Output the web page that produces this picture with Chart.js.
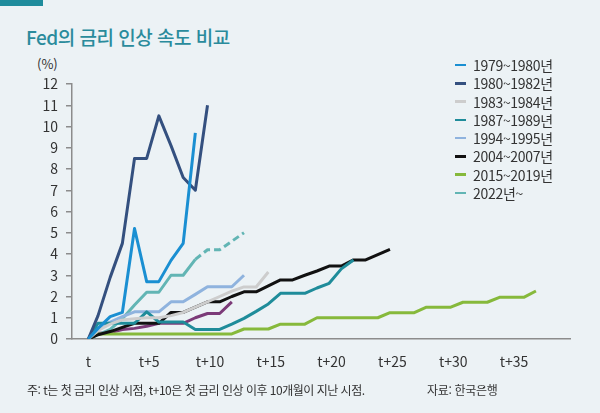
<!DOCTYPE html>
<html lang="ko">
<head>
<meta charset="utf-8">
<script src="https://cdn.jsdelivr.net/npm/chart.js@4.4.1/dist/chart.umd.min.js"></script>
<style>
  body { margin: 0; background: #ecf2f5; }
  #wrap { position: relative; width: 600px; height: 413px; overflow: hidden; background: #ecf2f5;
          font-family: "Noto Sans CJK KR", "Noto Sans", sans-serif; color: #333; }
  #bar { position: absolute; left: 0; top: 0; width: 43px; height: 6px; background: #1f8c9c; }
  #title { position: absolute; left: 26px; top: 23px; font-size: 19px; font-weight: 500; color: #2a8b9c; letter-spacing: -0.5px; }
  #unit { position: absolute; left: 37px; top: 54px; font-size: 13px; }
  #legend { position: absolute; left: 455px; top: 56px; }
  .row { height: 18.25px; display: flex; align-items: center; font-size: 14px; letter-spacing: -0.3px; }
  .mark { width: 11px; height: 2.5px; margin-right: 7px; }
  #note { position: absolute; left: 27px; top: 381px; font-size: 12px; letter-spacing: -0.5px; }
  #src { position: absolute; left: 427px; top: 381px; font-size: 12px; letter-spacing: -0.3px; }
  canvas { position: absolute; left: 0; top: 0; }
</style>
</head>
<body>
<div id="wrap">
  <div id="bar"></div>
  <div id="title">Fed의 금리 인상 속도 비교</div>
  <div id="unit">(%)</div>
  <canvas id="chart" width="600" height="413"></canvas>
  <div id="legend"></div>
  <div id="note">주: t는 첫 금리 인상 시점, t+10은 첫 금리 인상 이후 10개월이 지난 시점.</div>
  <div id="src">자료: 한국은행</div>
</div>
<script>
// x position of each point (months after first hike, as plotted)
const months = [0, 0.8, 1.8, 2.8, 3.8, 4.8, 5.8, 6.8, 7.8, 8.8, 9.8, 10.8, 11.8, 12.8, 13.8, 14.8,
  15.8, 16.8, 17.8, 18.8, 19.8, 20.8, 21.8, 22.8, 23.8, 24.8, 25.8, 26.8, 27.8, 28.8, 29.8,
  30.8, 31.8, 32.8, 33.8, 34.8, 35.8, 36.8];

const xTicks = [0, 5, 10, 15, 20, 25, 30, 35];
const yTicks = [0, 1, 2, 3, 4, 5, 6, 7, 8, 9, 10, 11, 12];

const s1979 = [0, 0.5, 1.05, 1.25, 5.2, 2.7, 2.7, 3.7, 4.5, 9.7];
const s1980 = [0, 1.1, 2.9, 4.5, 8.5, 8.5, 10.5, 9.1, 7.6, 7.0, 11.0];
const s1983 = [0, 0.4, 0.7, 0.9, 0.95, 1.0, 1.0, 1.1, 1.25, 1.5, 1.75, 2.0, 2.25, 2.45, 2.45, 3.15];
const s1987 = [0, 0.74, 0.74, 0.74, 0.74, 1.28, 0.8, 0.8, 0.8, 0.45, 0.45, 0.45, 0.7, 0.97, 1.3, 1.65,
  2.15, 2.15, 2.15, 2.4, 2.62, 3.3, 3.72];
const s1994 = [0, 0.5, 0.8, 1.05, 1.28, 1.28, 1.28, 1.75, 1.75, 2.1, 2.46, 2.46, 2.46, 3.0];
const s2004 = [0, 0.2, 0.35, 0.55, 0.74, 0.74, 0.74, 1.25, 1.25, 1.5, 1.75, 1.75, 2.0, 2.22, 2.22, 2.5,
  2.78, 2.78, 3.0, 3.2, 3.43, 3.43, 3.72, 3.72, 3.97, 4.22];
const s2015 = [0, 0.24, 0.24, 0.24, 0.24, 0.24, 0.24, 0.24, 0.24, 0.24, 0.24, 0.24, 0.24,
  0.47, 0.47, 0.47, 0.7, 0.7, 0.7, 1.0, 1.0, 1.0, 1.0, 1.0, 1.0, 1.24, 1.24, 1.24,
  1.5, 1.5, 1.5, 1.73, 1.73, 1.73, 1.96, 1.96, 1.96, 2.26];
const s2022 = [0, 0.2, 0.45, 0.95, 1.6, 2.2, 2.2, 3.0, 3.0, 3.75, 4.2, 4.2, 4.6, 5.0];
const sOther = [0, 0.27, 0.3, 0.45, 0.5, 0.6, 0.74, 0.74, 0.74, 1.0, 1.2, 1.2, 1.75];

const names = ["1979~1980년", "1980~1982년", "1983~1984년", "1987~1989년", "1994~1995년",
  "2004~2007년", "2015~2019년", "2022년~", ""];
const colors = ["#1a8fd2", "#34507f", "#cdcdcd", "#1f8c9a", "#8fb3de", "#111111", "#86b93b", "#62b5b4", "#7b3a78"];
const values = [s1979, s1980, s1983, s1987, s1994, s2004, s2015, s2022, sOther];
const dashFrom = 9; // 2022 line is dashed from this point on

const datasets = values.map((vals, i) => ({
  label: names[i],
  data: vals.map((v, j) => ({ x: months[j], y: v })),
  borderColor: colors[i],
  borderWidth: 3,
  pointRadius: 0,
  tension: 0,
  fill: false,
  borderJoinStyle: "round",
  segment: i === 7 ? { borderDash: ctx => ctx.p0DataIndex >= dashFrom ? [7, 4] : undefined } : undefined
}));

const font = { family: '"Noto Sans CJK KR", "Noto Sans", sans-serif', size: 14 };

new Chart(document.getElementById("chart"), {
  type: "line",
  data: { datasets },
  options: {
    responsive: false,
    animation: false,
    layout: { padding: { left: 0, right: 30, top: 84, bottom: 44 } },
    plugins: { legend: { display: false }, tooltip: { enabled: false } },
    scales: {
      x: {
        type: "linear",
        min: -1.34,
        max: 39.6,
        grid: { display: false },
        border: { display: true, color: "#8c8c8c", width: 1.5 },
        afterBuildTicks: s => { s.ticks = xTicks.map(v => ({ value: v })); },
        afterFit: s => { s.height = 30; },
        ticks: {
          padding: 6,
          color: "#333",
          font,
          maxRotation: 0,
          autoSkip: false,
          callback: v => v === 0 ? "t" : "t+" + v
        }
      },
      y: {
        min: 0,
        max: 12,
        grid: { display: true, drawOnChartArea: false, drawTicks: true, tickLength: 6, color: "#8c8c8c", lineWidth: 1.5 },
        border: { display: true, color: "#8c8c8c", width: 1.5 },
        afterBuildTicks: s => { s.ticks = yTicks.map(v => ({ value: v })); },
        afterFit: s => { s.width = 72; },
        ticks: { padding: 8, color: "#333", font }
      }
    }
  }
});

const legend = document.getElementById("legend");
names.forEach((n, i) => {
  if (!n) return;
  const row = document.createElement("div");
  row.className = "row";
  row.innerHTML = `<span class="mark" style="background:${colors[i]}"></span><span>${n}</span>`;
  legend.appendChild(row);
});
</script>
</body>
</html>
